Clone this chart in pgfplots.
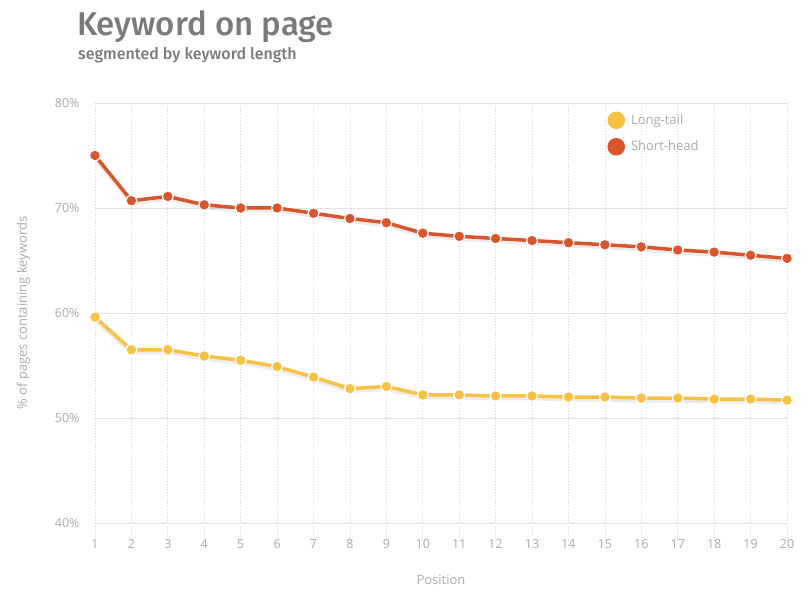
\documentclass[border=0pt]{standalone}
\usepackage{pgfplots}
\pgfplotsset{compat=1.18}
\usepackage{fontspec}
\setmainfont{Open Sans}
\newfontfamily\medfont{Fira Sans}[UprightFont={* Medium}]
\definecolor{sh}{HTML}{D9552B}
\definecolor{lt}{HTML}{F7C244}
\definecolor{ttl}{HTML}{7A7A7A}
\definecolor{tck}{HTML}{AAAAAA}
\definecolor{grd}{HTML}{E2E2E2}
\begin{document}
\begin{tikzpicture}
\path[use as bounding box] (0pt,0pt) rectangle (810pt,594pt);
\node[anchor=base west, inner sep=0, text=ttl, font=\medfont\fontsize{33}{33}\selectfont] at (77pt,558pt) {Keyword on page};
\node[anchor=base west, inner sep=0, text=ttl, font=\medfont\fontsize{16}{16}\selectfont] at (78pt,534pt) {segmented by keyword length};
\begin{axis}[
  at={(95pt,71pt)}, anchor=south west,
  scale only axis, width=692pt, height=420pt,
  xmin=1, xmax=20, ymin=40, ymax=80,
  axis line style={draw=none},
  xtick={1,...,20},
  xticklabels={1,2,3,4,5,6,7,8,9,10,11,12,13,14,15,16,17,18,19,20},
  ytick={40,50,60,70,80},
  yticklabels={40\%,50\%,60\%,70\%,80\%},
  tick style={draw=none},
  ticklabel style={text=tck, font=\fontsize{12.5}{13}\selectfont},
  xticklabel style={yshift=-13pt},
  yticklabel style={xshift=-12pt},
  ymajorgrids, major grid style={grd, line width=0.8pt},
  xlabel={Position}, xlabel style={text=tck, font=\fontsize{13}{13}\selectfont, yshift=-19pt},
  ylabel={\% of pages containing keywords}, ylabel style={text=tck, font=\fontsize{13}{13}\selectfont, yshift=18pt},
  clip=false,
  legend style={draw=none, fill=none, at={(0.736,0.985)}, anchor=north west, font=\fontsize{13}{13}\selectfont, text=tck, row sep=9pt, legend cell align=left, nodes={inner xsep=6pt}},
]
% vertical dotted grid
\pgfplotsinvokeforeach{1,...,20}{
  \draw[grd!90!gray, dotted, line width=0.8pt] (axis cs:#1,80) -- (axis cs:#1,38.3);
}
% shadows
\addplot[forget plot, draw=black, opacity=0.08, line width=5pt, yshift=-2pt] coordinates {
(1,59.6)(2,56.5)(3,56.5)(4,55.9)(5,55.5)(6,54.9)(7,53.9)(8,52.8)(9,53.0)(10,52.2)
(11,52.2)(12,52.1)(13,52.1)(14,52.0)(15,52.0)(16,51.9)(17,51.9)(18,51.8)(19,51.8)(20,51.7)};
\addplot[forget plot, draw=black, opacity=0.08, line width=5pt, yshift=-2pt] coordinates {
(1,75.0)(2,70.7)(3,71.1)(4,70.3)(5,70.0)(6,70.0)(7,69.5)(8,69.0)(9,68.6)(10,67.6)
(11,67.3)(12,67.1)(13,66.9)(14,66.7)(15,66.5)(16,66.3)(17,66.0)(18,65.8)(19,65.5)(20,65.2)};
\addplot[lt, line width=3.5pt, mark=*, mark size=5.5pt, mark options={fill=lt, draw=white, line width=1.2pt},
  legend image code/.code={\fill[lt] (0.1cm,0) circle (7pt);}] coordinates {
(1,59.6)(2,56.5)(3,56.5)(4,55.9)(5,55.5)(6,54.9)(7,53.9)(8,52.8)(9,53.0)(10,52.2)
(11,52.2)(12,52.1)(13,52.1)(14,52.0)(15,52.0)(16,51.9)(17,51.9)(18,51.8)(19,51.8)(20,51.7)};
\addlegendentry{Long-tail}
\addplot[sh, line width=3.5pt, mark=*, mark size=5.5pt, mark options={fill=sh, draw=white, line width=1.2pt},
  legend image code/.code={\fill[sh] (0.1cm,0) circle (7pt);}] coordinates {
(1,75.0)(2,70.7)(3,71.1)(4,70.3)(5,70.0)(6,70.0)(7,69.5)(8,69.0)(9,68.6)(10,67.6)
(11,67.3)(12,67.1)(13,66.9)(14,66.7)(15,66.5)(16,66.3)(17,66.0)(18,65.8)(19,65.5)(20,65.2)};
\addlegendentry{Short-head}
\end{axis}
\end{tikzpicture}
\end{document}
